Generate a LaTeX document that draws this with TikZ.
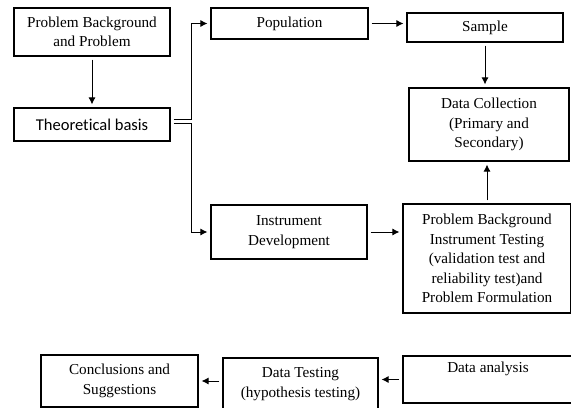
\documentclass[tikz,border=0pt]{standalone}
\usepackage{fontspec}
\setmainfont{Liberation Serif}
\newfontfamily\calibrisub[Ligatures=NoCommon]{Carlito}
\usetikzlibrary{arrows.meta,positioning}

\begin{document}
\begin{tikzpicture}[x=0.75pt,y=-0.75pt,
  box/.style={draw,line width=0.8pt,inner sep=0pt,align=center,
    font=\fontsize{11.4}{14.6}\selectfont},
  flow/.style={line width=0.75pt,-{Latex[length=5.25pt,width=5.25pt]},
    shorten <=2.25pt,shorten >=2.25pt}]
  \useasboundingbox (0,0) rectangle (571,407);

  \node[box,minimum width=117pt,minimum height=36pt] (background) at (92,32)
    {Problem Background\\and Problem};
  \node[box,minimum width=117pt,minimum height=24.75pt,
    font=\calibrisub\fontsize{12.4}{15}\selectfont] (theory) at (92,124.5)
    {Theoretical basis};
  \node[box,minimum width=117.75pt,minimum height=23.25pt] (population) at (289.5,23.5)
    {Population};
  \node[box,minimum width=117pt,minimum height=21.75pt] (sample) at (485,27.5)
    {Sample};
  \node[box,minimum width=120pt,minimum height=54.75pt] (collection) at (489,124.5)
    {Data Collection\\(Primary and\\Secondary)};
  \node[box,minimum width=117pt,minimum height=40.5pt] (instrument) at (289,232)
    {Instrument\\Development};
  \node[box,minimum width=126pt,minimum height=81.75pt] (testing) at (487,258.5)
    {Problem Background\\Instrument Testing\\(validation test and\\reliability test)and\\Problem Formulation};
  \node[box,minimum width=127.5pt,minimum height=35.25pt] (analysis) at (488,379.5)
    {Data analysis\\\strut};
  \node[box,minimum width=116.25pt,minimum height=39pt] (hypothesis) at (300.5,384)
    {Data Testing\\(hypothesis testing)};
  \node[box,minimum width=117.75pt,minimum height=39pt] (conclusion) at (119.5,381)
    {Conclusions and\\Suggestions};

  \draw[flow] (background.south) -- (theory.north);
  \draw[flow] ([yshift=3.75pt]theory.east) -- ++(21,0) |- (population.west);
  \draw[flow] ([yshift=0.75pt]theory.east) -- ++(21,0) |- (instrument.west);
  \draw[flow] (population.east) -- (population.east -| sample.west);
  \draw[flow] (sample.south) -- (sample.south |- collection.north);
  \draw[flow] (instrument.east) -- (instrument.east -| testing.west);
  \draw[flow] (testing.north) -- (testing.north |- collection.south);
  \draw[flow] (analysis.west) -- (analysis.west -| hypothesis.east);
  \draw[flow] (hypothesis.west |- conclusion.east) -- (conclusion.east);
\end{tikzpicture}
\end{document}
